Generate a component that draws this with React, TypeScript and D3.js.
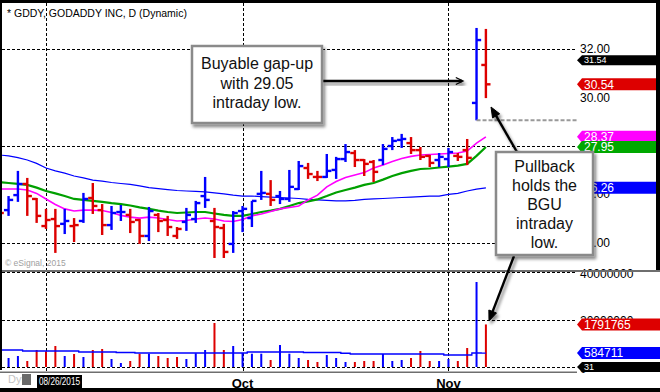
import { useEffect, useRef } from 'react'
import * as d3 from 'd3'

// trading days shown, Aug 25 .. Nov 6 2015
const dates = [
  '2015-08-25', '2015-08-26', '2015-08-27', '2015-08-28', '2015-08-31',
  '2015-09-01', '2015-09-02', '2015-09-03', '2015-09-04', '2015-09-08', '2015-09-09', '2015-09-10', '2015-09-11',
  '2015-09-14', '2015-09-15', '2015-09-16', '2015-09-17', '2015-09-18', '2015-09-21', '2015-09-22', '2015-09-23',
  '2015-09-24', '2015-09-25', '2015-09-28', '2015-09-29', '2015-09-30',
  '2015-10-01', '2015-10-02', '2015-10-05', '2015-10-06', '2015-10-07', '2015-10-08', '2015-10-09', '2015-10-12',
  '2015-10-13', '2015-10-14', '2015-10-15', '2015-10-16', '2015-10-19', '2015-10-20', '2015-10-21', '2015-10-22',
  '2015-10-23', '2015-10-26', '2015-10-27', '2015-10-28', '2015-10-29', '2015-10-30',
  '2015-11-02', '2015-11-03', '2015-11-04', '2015-11-05', '2015-11-06',
]

const opens = [25.55, 25.34, 25.96, 26.42, 25.80, 24.68, 24.97, 24.77, 24.68, 24.89, 25.84, 25.34, 24.72, 25.26, 25.14, 24.93, 24.27, 25.14, 24.93, 24.27, 24.85, 24.97, 25.92, 24.89, 24.60, 23.94, 25.30, 25.01, 26.01, 26.01, 25.92, 25.80, 26.21, 27.08, 26.71, 26.71, 27.00, 27.45, 27.70, 27.41, 27.33, 27.41, 27.99, 28.24, 28.11, 27.82, 27.58, 27.41, 27.45, 27.58, 27.82, 29.77, 31.34]
const highs = [25.76, 25.92, 26.96, 26.67, 25.84, 25.39, 25.39, 25.39, 25.01, 26.05, 26.46, 25.59, 25.51, 25.55, 25.39, 24.97, 25.47, 25.22, 25.10, 24.64, 25.43, 25.72, 26.71, 25.43, 24.77, 25.30, 25.51, 25.72, 26.96, 26.58, 26.13, 27.00, 27.37, 27.29, 26.96, 27.66, 27.54, 28.07, 27.82, 27.45, 27.41, 28.07, 28.36, 28.49, 28.36, 27.95, 27.62, 27.70, 27.91, 27.70, 28.28, 32.87, 32.83]
const lows = [24.85, 25.10, 25.68, 25.10, 24.81, 24.56, 23.57, 24.35, 24.02, 24.81, 25.18, 24.31, 24.52, 24.89, 24.39, 23.94, 24.06, 24.43, 24.27, 24.15, 24.48, 24.81, 25.43, 23.36, 23.36, 23.57, 24.43, 24.64, 25.76, 25.51, 25.59, 25.68, 26.17, 26.63, 26.54, 26.67, 26.63, 27.33, 27.12, 26.75, 26.50, 27.20, 27.82, 27.91, 27.66, 27.41, 27.12, 27.12, 27.12, 27.37, 27.20, 29.05, 29.97]
const closes = [25.22, 25.76, 26.42, 25.92, 25.10, 24.93, 24.68, 24.89, 24.72, 25.80, 25.51, 24.72, 25.22, 25.26, 24.85, 24.27, 25.30, 24.89, 24.64, 24.56, 25.14, 25.63, 25.76, 24.64, 23.61, 25.22, 25.39, 25.72, 26.05, 25.76, 25.80, 26.30, 27.16, 26.83, 26.71, 26.96, 27.45, 27.74, 27.41, 27.25, 26.92, 27.87, 28.20, 28.28, 27.82, 27.54, 27.29, 27.54, 27.74, 27.54, 27.50, 32.37, 30.54]
const priorClose = 25.40

const volumes = [4210000, 3790000, 4630000, 2530000, 7160000, 6610000, 8840000, 4630000, 5470000, 4210000, 7160000, 7580000, 3370000, 1680000, 2530000, 5600000, 5600000, 4630000, 3790000, 4210000, 3370000, 5770000, 7160000, 18530000, 7160000, 8840000, 5890000, 5600000, 5600000, 2950000, 9260000, 5600000, 3790000, 2950000, 2110000, 5050000, 3790000, 2110000, 2110000, 2530000, 2530000, 5470000, 2530000, 2950000, 3790000, 6740000, 2530000, 2530000, 3370000, 2530000, 8000000, 35790000, 17917650]
const volumeAvg = [7160000, 7160000, 7160000, 6740000, 6740000, 6740000, 6740000, 6740000, 6740000, 6320000, 6320000, 6320000, 6320000, 6110000, 6110000, 5890000, 5890000, 5890000, 5890000, 5890000, 5890000, 5890000, 5890000, 5890000, 5890000, 5890000, 5890000, 6320000, 6320000, 6320000, 6320000, 6320000, 6320000, 6110000, 6110000, 6110000, 6110000, 5800000, 5470000, 5470000, 5470000, 5470000, 5470000, 5470000, 5470000, 5470000, 5470000, 5470000, 5050000, 5050000, 5050000, 5890000, 5847110]

// moving averages (pink fast, green mid, blue slow)
const maFast = [26.21, 26.21, 26.21, 26.17, 26.03, 25.80, 25.57, 25.39, 25.30, 25.34, 25.34, 25.32, 25.24, 25.12, 25.05, 25.01, 25.05, 25.01, 24.95, 24.89, 24.91, 24.97, 25.01, 24.97, 24.89, 24.87, 24.95, 25.10, 25.18, 25.28, 25.39, 25.45, 25.51, 25.76, 25.96, 26.30, 26.52, 26.69, 26.79, 26.89, 27.08, 27.20, 27.35, 27.47, 27.56, 27.62, 27.64, 27.66, 27.68, 27.70, 27.78, 28.11, 28.37]
const maMid = [26.50, 26.46, 26.42, 26.38, 26.27, 26.13, 26.03, 25.92, 25.80, 25.76, 25.72, 25.68, 25.63, 25.59, 25.53, 25.45, 25.39, 25.32, 25.26, 25.22, 25.24, 25.26, 25.26, 25.20, 25.14, 25.10, 25.10, 25.18, 25.26, 25.32, 25.39, 25.51, 25.63, 25.70, 25.78, 25.92, 26.07, 26.17, 26.27, 26.38, 26.46, 26.60, 26.75, 26.87, 26.96, 27.04, 27.06, 27.10, 27.14, 27.18, 27.25, 27.58, 27.95]
const maSlow = [27.62, 27.58, 27.51, 27.41, 27.27, 27.08, 26.96, 26.87, 26.75, 26.67, 26.58, 26.54, 26.48, 26.44, 26.40, 26.34, 26.27, 26.23, 26.19, 26.15, 26.13, 26.11, 26.09, 26.05, 26.01, 25.96, 25.92, 25.92, 25.90, 25.88, 25.86, 25.84, 25.82, 25.78, 25.76, 25.74, 25.72, 25.72, 25.74, 25.78, 25.80, 25.82, 25.84, 25.86, 25.88, 25.90, 25.92, 25.92, 25.99, 26.03, 26.13, 26.21, 26.26]

const priceTicks = [32, 30, 28, 26, 24]
const priceGrid = [32, 28, 24]
const volumeTicks = [40000000, 20000000, 0]
const monthStarts = ['2015-09-01', '2015-10-01', '2015-11-02']
const monthLabels = ['', 'Oct', 'Nov']
const gapLow = 29.05
const gapDay = '2015-11-05'

const priceTagValues = [31.54, 30.54, 28.37, 27.95, 26.26]
const priceTagTexts = ['31.54', '30.54', '28.37', '27.95', '26.26']
const volumeTagValues = [17917650, 5847110, 0]
const volumeTagTexts = ['1791765', '584711', '31']

const FONT = 'Arial, "Liberation Sans", sans-serif'
const BLUE = '#0000ff'
const RED = '#dd0000'

const App = () => {
  const ref = useRef<SVGSVGElement>(null)

  useEffect(() => {
    const svg = d3.select(ref.current)
    svg.selectAll('*').remove()
    const right = 577

    const x = d3.scalePoint<string>().domain(dates).range([-0.8, 485.9])
    const yP = d3.scaleLinear().domain([24, 32]).range([242.5, 49])
    const yV = d3.scaleLinear().domain([0, 40000000]).range([367, 272])
    const isUp = (i: number) => closes[i] >= (i ? closes[i - 1] : priorClose)

    const defs = svg.append('defs')
    defs.append('clipPath').attr('id', 'pclip').append('rect')
      .attr('x', 2).attr('y', 3).attr('width', right - 2).attr('height', 266)
    defs.append('clipPath').attr('id', 'vclip').append('rect')
      .attr('x', 2).attr('y', 272).attr('width', right - 2).attr('height', 100)
    defs.append('filter').attr('id', 'shadow')
      .attr('x', '-20%').attr('y', '-20%').attr('width', '140%').attr('height', '140%')
      .append('feDropShadow')
      .attr('dx', 2).attr('dy', 3).attr('stdDeviation', 1.8)
      .attr('flood-color', '#000').attr('flood-opacity', 0.45)

    svg.append('rect').attr('width', 660).attr('height', 392).attr('fill', '#fff')

    // grid
    const grid = svg.append('g').attr('stroke', '#000').attr('stroke-dasharray', '3,2').attr('stroke-width', 1)
    priceGrid.forEach(v => {
      grid.append('line').attr('x1', 2).attr('x2', right)
        .attr('y1', Math.round(yP(v)) + 0.5).attr('y2', Math.round(yP(v)) + 0.5)
    })
    volumeTicks.forEach(v => {
      grid.append('line').attr('x1', 2).attr('x2', right)
        .attr('y1', Math.round(yV(v)) + 0.5).attr('y2', Math.round(yV(v)) + 0.5)
    })
    monthStarts.forEach(d => {
      const xx = Math.round(x(d)!) + 0.5
      grid.append('line').attr('x1', xx).attr('x2', xx).attr('y1', 3).attr('y2', 372)
    })

    // axis labels (some sit under the value tags, as in the original)
    const axisG = svg.append('g').attr('font-family', FONT).attr('font-size', 12).attr('fill', '#000')
    priceTicks.forEach(v => {
      axisG.append('text').attr('x', 580).attr('y', yP(v)).attr('dy', '0.36em').text(d3.format('.2f')(v))
    })
    volumeTicks.forEach(v => {
      axisG.append('text').attr('x', 580).attr('y', yV(v) + 1.5).attr('dy', '0.36em').text(String(v))
    })

    // moving averages
    const price = svg.append('g').attr('clip-path', 'url(#pclip)')
    const maLine = (vals: number[]) => d3.line<number>()
      .x((_, i) => x(dates[i])!)
      .y(v => yP(v))(vals)
    price.append('path').attr('d', maLine(maSlow)).attr('fill', 'none')
      .attr('stroke', BLUE).attr('stroke-width', 1.2)
    price.append('path').attr('d', maLine(maMid)).attr('fill', 'none')
      .attr('stroke', '#00a000').attr('stroke-width', 2.2)
    price.append('path').attr('d', maLine(maFast)).attr('fill', 'none')
      .attr('stroke', '#ff00ff').attr('stroke-width', 1.6)

    // OHLC bars
    const bars = price.selectAll('g.bar').data(dates).enter().append('g')
      .attr('fill', (_, i) => isUp(i) ? BLUE : RED)
    const bw = 2.4
    bars.append('rect')
      .attr('x', d => x(d)! - bw / 2).attr('width', bw)
      .attr('y', (_, i) => yP(highs[i])).attr('height', (_, i) => yP(lows[i]) - yP(highs[i]))
    bars.append('rect')
      .attr('x', d => x(d)! - 4.6).attr('width', 4.6)
      .attr('y', (_, i) => yP(opens[i]) - 1.2).attr('height', 2.4)
    bars.append('rect')
      .attr('x', d => x(d)!).attr('width', 4.6)
      .attr('y', (_, i) => yP(closes[i]) - 1.2).attr('height', 2.4)

    // gap-up low marker
    svg.append('line').attr('x1', x(gapDay)!).attr('x2', right)
      .attr('y1', yP(gapLow)).attr('y2', yP(gapLow))
      .attr('stroke', '#999').attr('stroke-width', 2).attr('stroke-dasharray', '4,2')

    // volume
    const vol = svg.append('g').attr('clip-path', 'url(#vclip)')
    vol.selectAll('rect').data(dates).enter().append('rect')
      .attr('x', d => x(d)! - 1).attr('width', 2)
      .attr('y', (_, i) => yV(volumes[i])).attr('height', (_, i) => yV(0) - yV(volumes[i]))
      .attr('fill', (_, i) => isUp(i) ? BLUE : RED)
    vol.append('path')
      .attr('d', d3.line<number>().x((_, i) => x(dates[i])!).y(v => yV(v)).curve(d3.curveStep)(volumeAvg))
      .attr('fill', 'none').attr('stroke', BLUE).attr('stroke-width', 1.3)

    // pane separators
    svg.append('rect').attr('x', 0).attr('y', 270).attr('width', 660).attr('height', 2).attr('fill', '#6e6e6e')
    svg.append('rect').attr('x', 0).attr('y', 371.5).attr('width', right).attr('height', 1.5).attr('fill', '#6e6e6e')

    // value tags
    const tag = (yy: number, text: string, color: string, small: boolean) => {
      const h = small ? 10 : 12
      const g = svg.append('g')
      g.append('path')
        .attr('d', `M${right},${yy} L${right + 5},${yy - h / 2} L660,${yy - h / 2} L660,${yy + h / 2} L${right + 5},${yy + h / 2} Z`)
        .attr('fill', color)
      g.append('text').attr('x', right + 7).attr('y', yy).attr('dy', '0.36em')
        .attr('font-family', FONT).attr('font-size', small ? 9 : 12).attr('fill', '#fff').text(text)
    }
    const priceTagColors = ['#000', RED, '#ff00ff', '#00a800', BLUE]
    priceTagValues.forEach((v, i) => tag(yP(v), priceTagTexts[i], priceTagColors[i], i === 0))
    const volumeTagColors = [RED, BLUE, '#000']
    volumeTagValues.forEach((v, i) => tag(yV(v), volumeTagTexts[i], volumeTagColors[i], i === 2))

    // title and credits
    svg.append('text').attr('x', 7).attr('y', 16.5).attr('font-family', FONT).attr('font-size', 10.5)
      .attr('fill', '#000').text('* GDDY, GODADDY INC, D (Dynamic)')
    svg.append('text').attr('x', 5).attr('y', 266).attr('font-family', FONT).attr('font-size', 8.5)
      .attr('fill', '#a0a0a0').text('© eSignal, 2015')

    // time axis
    svg.append('text').attr('x', 8).attr('y', 383).attr('font-family', FONT).attr('font-size', 11)
      .attr('fill', '#c4c4c4').text('Dyn')
    svg.append('rect').attr('x', 22).attr('y', 374).attr('width', 9).attr('height', 11).attr('fill', '#6a6a6a')
    svg.append('rect').attr('x', 37).attr('y', 375).attr('width', 45).attr('height', 13).attr('fill', '#000')
    svg.append('text').attr('x', 39).attr('y', 385).attr('font-family', FONT).attr('font-size', 10)
      .attr('textLength', 41).attr('lengthAdjust', 'spacingAndGlyphs').attr('fill', '#fff').text('08/26/2015')
    monthStarts.forEach((d, i) => {
      if (!monthLabels[i]) return
      svg.append('text').attr('x', x(d)!).attr('y', 387.5).attr('text-anchor', 'middle')
        .attr('font-family', FONT).attr('font-size', 13).attr('font-weight', 'bold').attr('fill', '#000')
        .text(monthLabels[i])
    })

    // callouts
    const callout = (bx: number, by: number, bwid: number, bh: number, lines: string[], firstBase: number, step: number) => {
      const g = svg.append('g')
      g.append('rect').attr('x', bx).attr('y', by).attr('width', bwid).attr('height', bh)
        .attr('fill', '#fff').attr('stroke', '#8a8a8a').attr('stroke-width', 2.5).attr('filter', 'url(#shadow)')
      lines.forEach((l, i) => {
        g.append('text').attr('x', bx + bwid / 2).attr('y', firstBase + i * step).attr('text-anchor', 'middle')
          .attr('font-family', FONT).attr('font-size', 16).attr('fill', '#111').text(l)
      })
    }
    const arrow = (x1: number, y1: number, x2: number, y2: number, open: boolean) => {
      const g = svg.append('g').attr('filter', 'url(#shadow)')
      const a = Math.atan2(y2 - y1, x2 - x1)
      const len = open ? 8 : 11
      const spread = open ? 0.45 : 0.38
      const p1 = [x2 - len * Math.cos(a - spread), y2 - len * Math.sin(a - spread)]
      const p2 = [x2 - len * Math.cos(a + spread), y2 - len * Math.sin(a + spread)]
      g.append('line').attr('x1', x1).attr('y1', y1)
        .attr('x2', open ? x2 - 1 : x2 - 6 * Math.cos(a)).attr('y2', open ? y2 : y2 - 6 * Math.sin(a))
        .attr('stroke', '#000').attr('stroke-width', 2.4)
      g.append('path').attr('d', `M${p1[0]},${p1[1]} L${x2},${y2} L${p2[0]},${p2[1]}` + (open ? '' : ' Z'))
        .attr('fill', open ? 'none' : '#000').attr('stroke', '#000').attr('stroke-width', open ? 1.3 : 1)
    }

    arrow(323, 81, 463, 81, true)
    arrow(517, 152, 491, 107, false)
    arrow(514, 256, 489, 321, false)
    callout(192, 46, 130, 77, ['Buyable gap-up', 'with 29.05', 'intraday low.'], 69, 19.5)
    callout(496, 152, 97, 103, ['Pullback', 'holds the', 'BGU', 'intraday', 'low.'], 171.5, 19)

    // frame
    svg.append('rect').attr('x', 0).attr('y', 0).attr('width', 660).attr('height', 3).attr('fill', '#000')
    svg.append('rect').attr('x', 0).attr('y', 0).attr('width', 2).attr('height', 370).attr('fill', '#000')
    svg.append('rect').attr('x', 656).attr('y', 0).attr('width', 4).attr('height', 270).attr('fill', '#000')
    svg.append('rect').attr('x', 0).attr('y', 388).attr('width', 660).attr('height', 4).attr('fill', '#000')
  }, [])

  return (
    <div style={{ position: 'fixed', left: 0, top: 0 }}>
      <svg ref={ref} width={660} height={392} style={{ display: 'block' }}></svg>
    </div>
  )
}

export default App
